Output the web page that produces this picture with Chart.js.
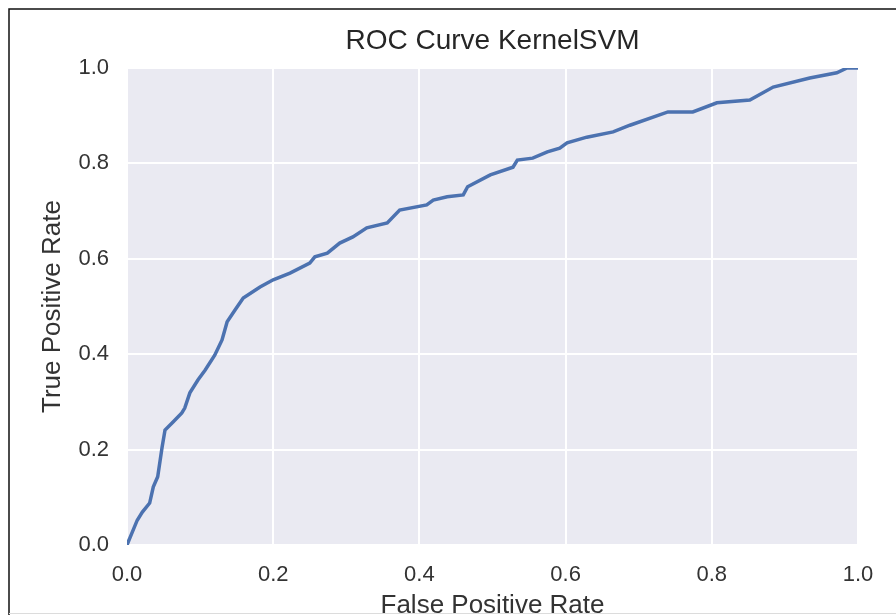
<!DOCTYPE html>
<html lang="en">
<head>
  <meta charset="UTF-8">
  <title>ROC Curve KernelSVM</title>
  <script src="https://cdn.jsdelivr.net/npm/chart.js"></script>
  <style>
    html, body { margin: 0; padding: 0; background: #fff; }
    #box { width: 896px; height: 615px; }
  </style>
</head>
<body>
  <div id="box"><canvas id="rocChart" width="896" height="615"></canvas></div>

  <script>
    // ROC points
    const fpr = [0, 0.004, 0.014, 0.021, 0.031, 0.036, 0.042, 0.048, 0.052, 0.063,
                 0.075, 0.079, 0.086, 0.097, 0.107, 0.120, 0.130, 0.137, 0.148, 0.159,
                 0.182, 0.200, 0.223, 0.250, 0.257, 0.274, 0.291, 0.309, 0.328, 0.356,
                 0.373, 0.410, 0.419, 0.438, 0.460, 0.466, 0.497, 0.528, 0.534, 0.555,
                 0.575, 0.592, 0.602, 0.629, 0.665, 0.688, 0.740, 0.774, 0.807, 0.852,
                 0.884, 0.934, 0.971, 0.985, 1.0];
    const tpr = [0, 0.015, 0.052, 0.069, 0.088, 0.122, 0.143, 0.205, 0.241, 0.258,
                 0.277, 0.287, 0.319, 0.346, 0.367, 0.398, 0.430, 0.468, 0.493, 0.518,
                 0.541, 0.556, 0.570, 0.591, 0.604, 0.612, 0.633, 0.646, 0.665, 0.675,
                 0.702, 0.713, 0.723, 0.730, 0.734, 0.751, 0.776, 0.792, 0.807, 0.811,
                 0.824, 0.832, 0.843, 0.855, 0.866, 0.880, 0.908, 0.908, 0.927, 0.933,
                 0.960, 0.979, 0.990, 1.0, 1.0];
    const tickValues = [0, 0.2, 0.4, 0.6, 0.8, 1.0];
    const chartTitle = 'ROC Curve KernelSVM';

    const FONT = "'Liberation Sans', Arial, sans-serif";

    // seaborn-ish grey panel, title centred over the panel, frame lines of the screenshot
    const panelBg = {
      id: 'panelBg',
      beforeDraw(chart) {
        const { ctx, chartArea: a } = chart;
        ctx.save();
        ctx.fillStyle = '#EAEAF2';
        ctx.fillRect(a.left, a.top, a.right - a.left, a.bottom - a.top);
        ctx.restore();
      },
      afterDraw(chart) {
        const { ctx, chartArea: a } = chart;
        ctx.save();
        ctx.fillStyle = '#262626';
        ctx.font = '28px ' + FONT;
        ctx.textAlign = 'center';
        ctx.textBaseline = 'middle';
        ctx.fillText(chartTitle, (a.left + a.right) / 2, 41);

        ctx.strokeStyle = '#111';
        ctx.lineWidth = 1.5;
        ctx.beginPath();
        ctx.moveTo(896, 9);
        ctx.lineTo(9, 9);
        ctx.lineTo(9, 615);
        ctx.stroke();
        ctx.strokeStyle = '#dcdcdc';
        ctx.lineWidth = 1;
        ctx.beginPath();
        ctx.moveTo(9, 613.5);
        ctx.lineTo(896, 613.5);
        ctx.stroke();
        ctx.restore();
      }
    };

    const ctx = document.getElementById('rocChart').getContext('2d');
    new Chart(ctx, {
      type: 'line',
      data: {
        datasets: [{
          data: fpr.map((x, i) => ({ x: x, y: tpr[i] })),
          borderColor: '#4C72B0',
          borderWidth: 3.5,
          pointRadius: 0,
          tension: 0,
          fill: false
        }]
      },
      options: {
        responsive: false,
        animation: false,
        layout: { padding: { left: 0, right: 38, top: 68, bottom: 0 } },
        plugins: {
          legend: { display: false },
          tooltip: { enabled: false },
          title: { display: false }
        },
        scales: {
          x: {
            type: 'linear',
            min: 0, max: 1,
            afterBuildTicks: s => { s.ticks = tickValues.map(v => ({ value: v })); },
            afterFit: s => { s.height = 70; },
            grid: { color: '#ffffff', lineWidth: 2, drawTicks: false },
            border: { display: false },
            ticks: {
              color: '#333',
              padding: 17,
              font: { family: FONT, size: 22 },
              callback: v => v.toFixed(1)
            },
            title: {
              display: true,
              text: 'False Positive Rate',
              color: '#333',
              font: { family: FONT, size: 26, lineHeight: 1 },
              padding: { top: 0, bottom: -4 }
            }
          },
          y: {
            type: 'linear',
            min: 0, max: 1,
            afterBuildTicks: s => { s.ticks = tickValues.map(v => ({ value: v })); },
            afterFit: s => { s.width = 127; },
            grid: { color: '#ffffff', lineWidth: 2, drawTicks: false },
            border: { display: false },
            ticks: {
              color: '#333',
              padding: 18,
              font: { family: FONT, size: 22 },
              callback: v => v.toFixed(1)
            },
            title: {
              display: true,
              text: 'True Positive Rate',
              color: '#333',
              font: { family: FONT, size: 26, lineHeight: 1 },
              padding: { top: 40, bottom: 0 }
            }
          }
        }
      },
      plugins: [panelBg]
    });
  </script>
</body>
</html>
